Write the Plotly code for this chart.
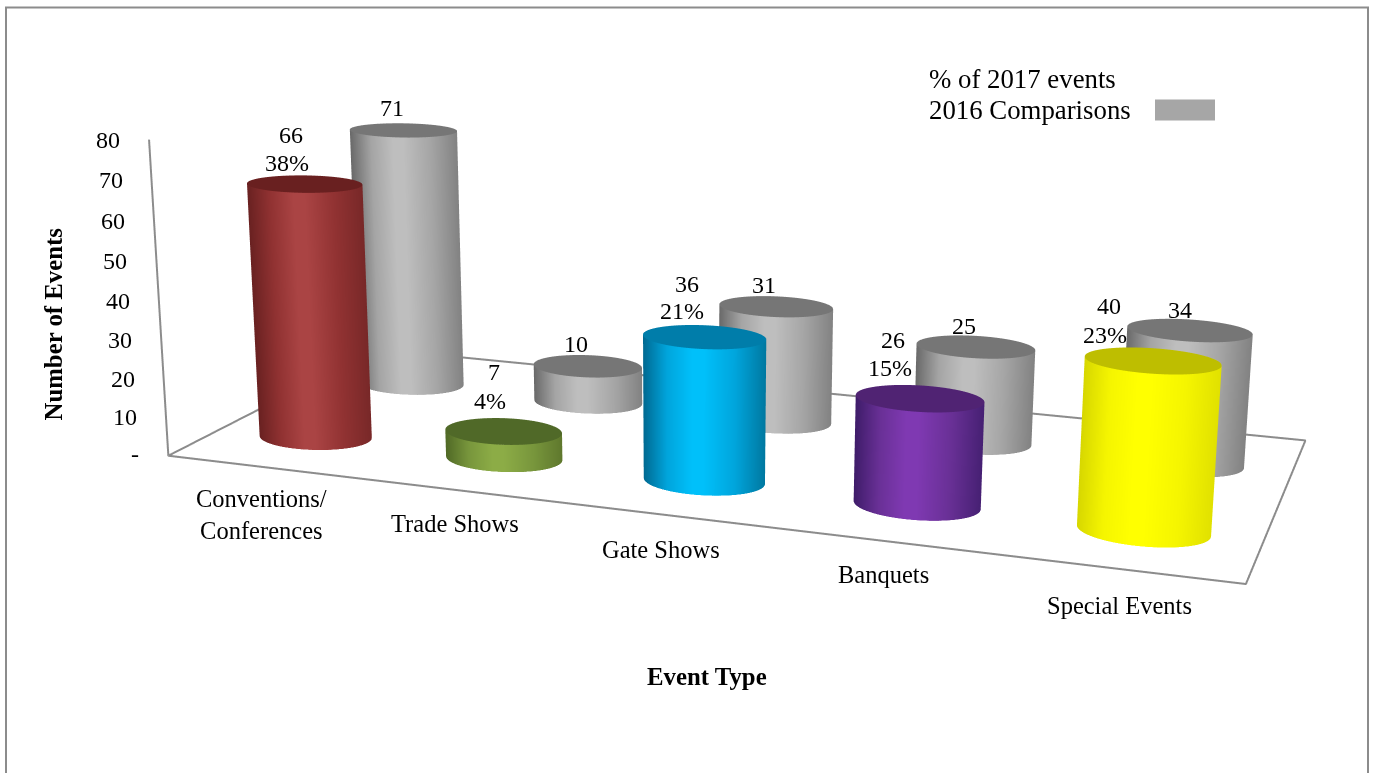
import numpy as np
import plotly.graph_objects as go

categories = ["Conventions/<br>Conferences", "Trade Shows", "Gate Shows", "Banquets", "Special Events"]
values_2017 = [66, 7, 36, 26, 40]
values_2016 = [71, 10, 31, 25, 34]
percent_2017 = ["38%", "4%", "21%", "15%", "23%"]
tick_values = [0, 10, 20, 30, 40, 50, 60, 70, 80]
tick_labels = ["-", "10", "20", "30", "40", "50", "60", "70", "80"]

W, H = 1373, 773
# Plotly's 3D view has a fixed 45 degree field of view, so the scene is made taller than the
# window (flatter perspective) and the page is shifted so the scene centre is the window centre.
H2 = 1976
OFF = (H2 - H) / 2

EYE = (0.7047, -2.0574, 0.5167)
CENTER = (-0.0174, -0.1077, -0.0626)
UP = (-0.0039, 0.0, 1.0)
ASPECT_Y, ASPECT_Z = 0.4233, 0.3008
ROW_FRONT, ROW_BACK = 0.4878, 1.4585
RAD_X, RAD_Y = 0.284, 0.1979

def py(v): return 1 - (v + OFF) / H2
def px(v): return v / W

FONT = "Liberation Serif"
theta = np.linspace(0, 2 * np.pi, 145)
LIGHTS = dict(ambient=1, diffuse=0, specular=0, fresnel=0, roughness=1)

def cyl(xc, yc, val, edgeL, base, mid, edgeR, cap):
    view = np.array([EYE[0] - (xc / 5 - .5), EYE[1] - (yc / 2 - .5) * ASPECT_Y])
    view = view / np.linalg.norm(view)
    side_dir = np.array([view[1], -view[0]])
    # position across the cylinder on screen: -1 left edge, +1 right edge
    t = np.c_[np.cos(theta) * RAD_X / 5, np.sin(theta) * RAD_Y / 2 * ASPECT_Y] @ side_dir
    t = t / np.abs(t).max()
    X = np.vstack([xc + RAD_X * np.cos(theta)] * 2)
    Y = np.vstack([yc + RAD_Y * np.sin(theta)] * 2)
    Z = np.vstack([np.zeros_like(theta), np.full_like(theta, val)])
    side = go.Surface(x=X, y=Y, z=Z, surfacecolor=np.vstack([t, t]), cmin=-1, cmax=1, showscale=False, hoverinfo="skip",
                      colorscale=[[0, edgeL], [.25, base], [.5, mid], [.6, mid], [.8, base], [1, edgeR]], lighting=LIGHTS)
    rr = np.array([0, 1.0])
    Xc = np.outer(rr, RAD_X * np.cos(theta)) + xc
    Yc = np.outer(rr, RAD_Y * np.sin(theta)) + yc
    Zc = np.full_like(Xc, val)
    top = go.Surface(x=Xc, y=Yc, z=Zc, surfacecolor=np.zeros_like(Xc), cmin=0, cmax=1, showscale=False, hoverinfo="skip",
                     colorscale=[[0, cap], [1, cap]], lighting=LIGHTS)
    return [side, top]

styles = [("rgb(120,40,40)", "rgb(145,50,50)", "rgb(170,68,68)", "rgb(105,33,33)", "rgb(105,32,32)"),
          ("rgb(95,120,45)", "rgb(120,150,60)", "rgb(140,172,70)", "rgb(80,105,38)", "rgb(80,105,40)"),
          ("rgb(0,120,160)", "rgb(0,165,220)", "rgb(0,192,250)", "rgb(0,105,145)", "rgb(0,125,170)"),
          ("rgb(70,32,115)", "rgb(105,48,150)", "rgb(127,57,178)", "rgb(62,28,105)", "rgb(80,35,115)"),
          ("rgb(225,225,0)", "rgb(245,245,0)", "rgb(255,255,0)", "rgb(215,215,0)", "rgb(190,190,0)")]
gray = ("rgb(130,130,130)", "rgb(165,165,165)", "rgb(190,190,190)", "rgb(105,105,105)", "rgb(118,118,118)")

fig = go.Figure()
for i in range(5):
    for t in cyl(i + .5, ROW_BACK, values_2016[i], *gray):
        fig.add_trace(t)
for i in range(5):
    for t in cyl(i + .5, ROW_FRONT, values_2017[i], *styles[i]):
        fig.add_trace(t)
fig.add_trace(go.Scatter3d(x=[0, 0, 5, 5, 0, 0], y=[0, 0, 0, 2, 2, 0], z=[80, 0, 0, 0, 0, 0], mode="lines",
                           line=dict(color="#8c8c8c", width=4), hoverinfo="skip", showlegend=False))

def sa(x, y, z, text, xs=0, ys=0, xa="center", size=24):
    return dict(x=x, y=y, z=z, text=text, showarrow=False, xshift=xs, yshift=ys, xanchor=xa, yanchor="middle",
                font=dict(family=FONT, size=size, color="black"))

shift_val = [(-14, 49), (-10, 59), (-17, 53), (-27, 58), (-44, 55)]
shift_pct = [(-18, 21), (-14, 30), (-22, 26), (-30, 30), (-48, 26)]
shift_gray = [(-11, 22), (-12, 22), (-12, 22), (-12, 21), (-10, 20)]
shift_cat = [(0, -48), (-1, -33), (-3, -35), (-2, -33), (-2, -36)]

ann = []
for i in range(5):
    ann.append(sa(i + .5, ROW_FRONT, values_2017[i], str(values_2017[i]), *shift_val[i]))
    ann.append(sa(i + .5, ROW_FRONT, values_2017[i], percent_2017[i], *shift_pct[i]))
    ann.append(sa(i + .5, ROW_BACK, values_2016[i], str(values_2016[i]), *shift_gray[i]))
    ann.append(sa(i + .5, 0, 0, categories[i], *shift_cat[i], size=24.5))
for v, l in zip(tick_values, tick_labels):
    ann.append(sa(0, 0, v, l, -27, 2 if v == 0 else 0, "right"))

fig.update_layout(
    width=W, height=H2, margin=dict(l=0, r=0, t=0, b=0), paper_bgcolor="white", showlegend=False,
    scene=dict(domain=dict(x=[0, 1], y=[0, 1]), bgcolor="white",
               xaxis=dict(visible=False, range=[0, 5]), yaxis=dict(visible=False, range=[0, 2]),
               zaxis=dict(visible=False, range=[0, 80]),
               aspectmode="manual", aspectratio=dict(x=1, y=ASPECT_Y, z=ASPECT_Z),
               camera=dict(eye=dict(x=EYE[0], y=EYE[1], z=EYE[2]),
                           center=dict(x=CENTER[0], y=CENTER[1], z=CENTER[2]),
                           up=dict(x=UP[0], y=UP[1], z=UP[2]), projection=dict(type="perspective")),
               annotations=ann),
    shapes=[dict(type="rect", xref="paper", yref="paper", x0=px(6), x1=px(1368), y0=py(H + 40), y1=py(8),
                 line=dict(color="#8c8c8c", width=2)),
            dict(type="rect", xref="paper", yref="paper", x0=px(1155), x1=px(1215), y0=py(121), y1=py(100),
                 fillcolor="#a6a6a6", line=dict(width=0))],
    annotations=[
        dict(xref="paper", yref="paper", x=px(927), y=py(79), text="% of 2017 events", showarrow=False,
             xanchor="left", yanchor="middle", font=dict(family=FONT, size=26.8, color="black")),
        dict(xref="paper", yref="paper", x=px(927), y=py(110), text="2016 Comparisons", showarrow=False,
             xanchor="left", yanchor="middle", font=dict(family=FONT, size=26.8, color="black")),
        dict(xref="paper", yref="paper", x=px(707), y=py(677), text="<b>Event Type</b>", showarrow=False,
             xanchor="center", yanchor="middle", font=dict(family=FONT, size=24.8, color="black")),
        dict(xref="paper", yref="paper", x=px(53), y=py(325), text="<b>Number of Events</b>", textangle=-90,
             showarrow=False, xanchor="center", yanchor="middle", font=dict(family=FONT, size=24.8, color="black")),
    ])
post = ("document.documentElement.style.overflow='hidden';document.body.style.overflow='hidden';"
        "document.body.style.margin='0';document.getElementById('{plot_id}').style.marginTop='-%dpx';" % int(round(OFF)))
fig.write_html("out.html", post_script=post)
